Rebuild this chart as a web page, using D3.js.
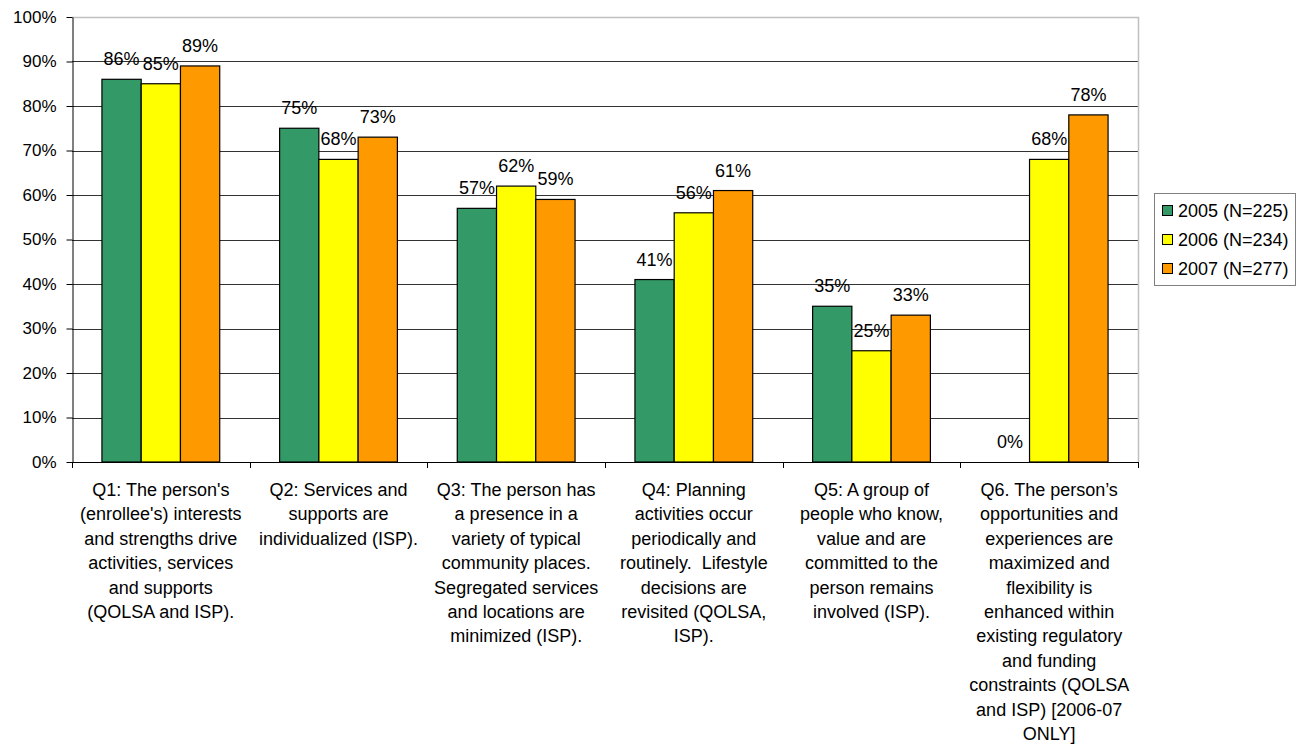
<!DOCTYPE html>
<html>
<head>
<meta charset="utf-8">
<script src="https://cdn.jsdelivr.net/npm/d3@7"></script>
<style>
  html, body { margin: 0; padding: 0; background: #fff; }
  svg text { font-family: "Liberation Sans", Arial, sans-serif; fill: #000; }
</style>
</head>
<body>
<svg id="chart" width="1299" height="745"></svg>
<script>
'use strict';

/* ── data ─────────────────────────────────────────── */
const CATEGORIES = ['Q1', 'Q2', 'Q3', 'Q4', 'Q5', 'Q6'];

const CATEGORY_LINES = [
  ["Q1: The person's", "(enrollee's) interests", 'and strengths drive', 'activities, services', 'and supports', '(QOLSA and ISP).'],
  ['Q2: Services and', 'supports are', 'individualized (ISP).'],
  ['Q3: The person has', 'a presence in a', 'variety of typical', 'community places.', 'Segregated services', 'and locations are', 'minimized (ISP).'],
  ['Q4: Planning', 'activities occur', 'periodically and', 'routinely.  Lifestyle', 'decisions are', 'revisited (QOLSA,', 'ISP).'],
  ['Q5: A group of', 'people who know,', 'value and are', 'committed to the', 'person remains', 'involved (ISP).'],
  ['Q6. The person\u2019s', 'opportunities and', 'experiences are', 'maximized and', 'flexibility is', 'enhanced within', 'existing regulatory', 'and funding', 'constraints (QOLSA', 'and ISP) [2006-07', 'ONLY]']
];

const SERIES = ['2005 (N=225)', '2006 (N=234)', '2007 (N=277)'];
const COLORS = ['#339966', '#ffff00', '#ff9900'];

const V2005 = [86, 75, 57, 41, 35, 0];
const V2006 = [85, 68, 62, 56, 25, 68];
const V2007 = [89, 73, 59, 61, 33, 78];

const Y_TICKS = [0, 10, 20, 30, 40, 50, 60, 70, 80, 90, 100];

/* ── layout ───────────────────────────────────────── */
const plot = { left: 72, right: 1138, top: 17, bottom: 462 };
const FONT = 18;
const AXIS_FONT = 17;
const LINE_H = 24.4;

const svg = d3.select('#chart');

const x0 = d3.scaleBand()
  .domain(CATEGORIES)
  .range([plot.left, plot.right])
  .paddingInner(0)
  .paddingOuter(0);

const x1 = d3.scaleBand()
  .domain(SERIES)
  .range([0, x0.bandwidth() * 0.663])
  .padding(0);

const y = d3.scaleLinear().domain([0, 100]).range([plot.bottom, plot.top]);

const values = [V2005, V2006, V2007];
const rows = [];
CATEGORIES.forEach((c, i) => {
  SERIES.forEach((s, j) => rows.push({ cat: c, series: s, j, v: values[j][i] }));
});

const groupOffset = (x0.bandwidth() - x1.range()[1]) / 2;

/* ── gridlines ────────────────────────────────────── */
svg.append('g')
  .selectAll('line')
  .data(Y_TICKS.filter(t => t > 0 && t < 100))
  .join('line')
  .attr('x1', plot.left).attr('x2', plot.right)
  .attr('y1', d => Math.round(y(d)) + 0.5).attr('y2', d => Math.round(y(d)) + 0.5)
  .attr('stroke', '#333').attr('stroke-width', 1);

// top and right frame in light gray
svg.append('path')
  .attr('d', `M${plot.left},${y(100) + 0.5}H${plot.right + 0.5}V${plot.bottom}`)
  .attr('fill', 'none').attr('stroke', '#c0c0c0').attr('stroke-width', 1.5);

/* ── bars ─────────────────────────────────────────── */
svg.append('g')
  .selectAll('rect')
  .data(rows.filter(d => d.v > 0))
  .join('rect')
  .attr('x', d => x0(d.cat) + groupOffset + x1(d.series))
  .attr('y', d => y(d.v))
  .attr('width', x1.bandwidth())
  .attr('height', d => y(0) - y(d.v))
  .attr('fill', d => COLORS[d.j])
  .attr('stroke', '#000').attr('stroke-width', 1.2);

/* ── value labels ─────────────────────────────────── */
svg.append('g')
  .selectAll('text')
  .data(rows)
  .join('text')
  .attr('x', d => x0(d.cat) + groupOffset + x1(d.series) + x1.bandwidth() / 2)
  .attr('y', d => y(d.v) - 14)
  .attr('text-anchor', 'middle')
  .attr('font-size', FONT)
  .text(d => d.v + '%');

/* ── axes ─────────────────────────────────────────── */
const yAxis = d3.axisLeft(y)
  .tickValues(Y_TICKS)
  .tickFormat(d => d + '%')
  .tickSizeInner(6).tickSizeOuter(0).tickPadding(10);

const gy = svg.append('g')
  .attr('transform', `translate(${plot.left + 0.5},0)`)
  .call(yAxis);
gy.select('.domain').attr('stroke', '#000');
gy.selectAll('.tick line').attr('stroke', '#000');
gy.selectAll('text').attr('font-size', AXIS_FONT).attr('fill', '#000')
  .style('font-family', '"Liberation Sans", Arial, sans-serif');

const xTicks = CATEGORIES.map(c => x0(c)).concat([plot.right]);
const gx = svg.append('g');
gx.append('line')
  .attr('x1', plot.left).attr('x2', plot.right)
  .attr('y1', plot.bottom + 0.5).attr('y2', plot.bottom + 0.5)
  .attr('stroke', '#000');
gx.selectAll('.xt')
  .data(xTicks)
  .join('line')
  .attr('x1', d => Math.round(d) + 0.5).attr('x2', d => Math.round(d) + 0.5)
  .attr('y1', plot.bottom).attr('y2', plot.bottom + 6)
  .attr('stroke', '#000');

/* ── category labels ─────────────────────────────── */
const catLabels = svg.append('g')
  .selectAll('text')
  .data(CATEGORIES)
  .join('text')
  .attr('x', c => x0(c) + x0.bandwidth() / 2)
  .attr('y', 496)
  .attr('text-anchor', 'middle')
  .attr('font-size', FONT);

catLabels.each(function (c, i) {
  const t = d3.select(this);
  CATEGORY_LINES[i].forEach((line, k) => {
    t.append('tspan')
      .attr('x', x0(c) + x0.bandwidth() / 2)
      .attr('dy', k === 0 ? 0 : LINE_H)
      .style('white-space', 'pre')
      .text(line);
  });
});

/* ── legend ───────────────────────────────────────── */
const legend = svg.append('g').attr('transform', 'translate(1154,193)');
legend.append('rect')
  .attr('x', 0.5).attr('y', 0.5).attr('width', 141).attr('height', 92)
  .attr('fill', '#fff').attr('stroke', '#808080');

const item = legend.selectAll('g.item')
  .data(SERIES)
  .join('g')
  .attr('class', 'item')
  .attr('transform', (d, i) => `translate(8,${12 + i * 29})`);

item.append('rect')
  .attr('width', 10).attr('height', 10)
  .attr('x', 0.5).attr('y', 0.5)
  .attr('fill', (d, i) => COLORS[i])
  .attr('stroke', '#000');

item.append('text')
  .attr('x', 16).attr('y', 11.5)
  .attr('font-size', FONT)
  .text(d => d);
</script>
</body>
</html>
